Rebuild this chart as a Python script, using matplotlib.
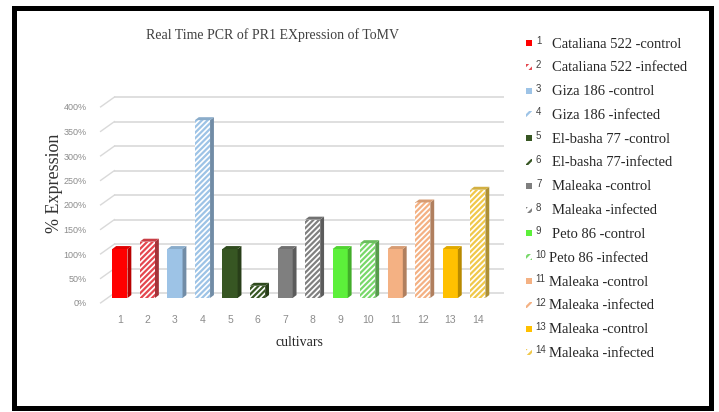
import matplotlib
matplotlib.use('Agg')
import matplotlib.pyplot as plt
from matplotlib.patches import Polygon, Rectangle
import matplotlib.colors as mcolors
import matplotlib.transforms as mtransforms

# data
cultivars = ['1', '2', '3', '4', '5', '6', '7', '8', '9', '10', '11', '12', '13', '14']
names = ['Cataliana 522 -control', 'Cataliana 522 -infected', 'Giza 186 -control',
         'Giza 186 -infected', 'El-basha 77 -control', 'El-basha 77-infected',
         'Maleaka -control', 'Maleaka -infected', 'Peto 86 -control',
         'Peto 86 -infected', 'Maleaka -control', 'Maleaka -infected',
         'Maleaka -control', 'Maleaka -infected']
expression = [100, 115, 100, 363, 100, 25, 100, 160, 100, 112, 100, 195, 100, 221]
yticks = [0, 50, 100, 150, 200, 250, 300, 350, 400]

colors = ['#FF0000', '#E4474F', '#9DC3E6', '#9DC3E6', '#375623', '#375623',
          '#7F7F7F', '#808080', '#5CF03A', '#78D86A', '#F4B183', '#F4B183',
          '#FFC000', '#F0C84A']
hatched = [False, True] * 7

W, H = 719, 412
plt.rcParams['hatch.linewidth'] = 1.6
fig = plt.figure(figsize=(W / 100, H / 100), dpi=100)
ax = fig.add_axes([102 / W, 1 - 298 / H, 402 / W, 196 / H])

x = list(range(1, len(expression) + 1))
width = 0.55
depth = 0.14   # 3D side depth (x units)
rise = 6       # 3D side rise (y units)
back = 10      # back wall offset of the gridlines (y units)


def darker(c, f=0.72):
    r, g, b = mcolors.to_rgb(c)
    return (r * f, g * f, b * f)


# gridlines on the back wall with the short perspective slant on the left
ax.hlines([t + back for t in yticks], 0.8, 14.95, color='#D9D9D9', linewidth=1.2,
          zorder=0, clip_on=False)
for t in yticks:
    ax.plot([0.3, 0.8], [t - back, t + back], color='#D9D9D9', linewidth=1.0,
            zorder=0, clip_on=False)

for xi, v, c, h in zip(x, expression, colors, hatched):
    if h:
        ax.bar(xi, v, width=width, color='white', edgecolor=c, hatch='//////',
               linewidth=0, zorder=3)
    else:
        ax.bar(xi, v, width=width, color=c, linewidth=0, zorder=3)
    # side and top faces for the 3D look
    xr = xi + width / 2
    side = Polygon([(xr, 0), (xr + depth, rise), (xr + depth, v + rise), (xr, v)],
                   closed=True, facecolor=darker(c), edgecolor='none', zorder=3)
    top = Polygon([(xi - width / 2, v), (xr, v), (xr + depth, v + rise),
                   (xi - width / 2 + depth, v + rise)],
                  closed=True, facecolor=darker(c, 0.88), edgecolor='none', zorder=3)
    ax.add_patch(side)
    ax.add_patch(top)

ax.set_xlim(0.35, 14.95)
ax.set_ylim(0, 400)
ax.set_yticks(yticks)
ax.set_yticklabels([f'{t}%' for t in yticks])
ax.set_xticks(x)
ax.set_xticklabels(cultivars)
for s in ax.spines.values():
    s.set_visible(False)
ax.tick_params(axis='y', length=0, pad=11, labelsize=6.5, labelcolor='#8C8C8C')
ax.tick_params(axis='x', length=0, pad=12, labelsize=7.5, labelcolor='#8C8C8C')
shift = mtransforms.ScaledTranslation(0, -5 / 100, fig.dpi_scale_trans)
for lab in ax.get_yticklabels():
    lab.set_transform(lab.get_transform() + shift)
for lab in ax.get_xticklabels() + ax.get_yticklabels():
    lab.set_family('Liberation Sans')

serif = 'Liberation Serif'
fig.text(272 / W, 1 - 35 / H, 'Real Time PCR of PR1 EXpression of ToMV',
         family=serif, fontsize=10, color='#404040', ha='center', va='center')
fig.text(55 / W, 1 - 183 / H, '% Expression', family=serif, fontsize=13,
         color='#333333', rotation=90, ha='center', va='center')
fig.text(299 / W, 1 - 342 / H, 'cultivars', family=serif, fontsize=10,
         color='#262626', ha='center', va='center')

# legend drawn by hand
for i, (num, name, c, h) in enumerate(zip(cultivars, names, colors, hatched)):
    yc = 44 + i * 23.8
    if h:
        p = Rectangle((526 / W, 1 - (yc + 2) / H), 6 / W, 6 / H, transform=fig.transFigure,
                      facecolor='white', edgecolor=c, hatch='////', linewidth=0)
    else:
        p = Rectangle((526 / W, 1 - (yc + 2) / H), 6 / W, 6 / H, transform=fig.transFigure,
                      facecolor=c, edgecolor='none')
    fig.patches.append(p)
    nx = 536 if i < 9 else 535
    tx = 552 if i < 9 else 549
    fig.text(nx / W, 1 - (yc - 3) / H, num, family='Liberation Sans', fontsize=7,
             color='#404040', ha='left', va='center')
    fig.text(tx / W, 1 - yc / H, name, family=serif, fontsize=10.5,
             color='#262626', ha='left', va='center')

# black frame around the picture
fig.patches.append(Rectangle((13.5 / W, 4.5 / H), 697 / W, 400 / H,
                             transform=fig.transFigure, facecolor='none',
                             edgecolor='black', linewidth=3.6))

fig.savefig('out.png', dpi=100)
